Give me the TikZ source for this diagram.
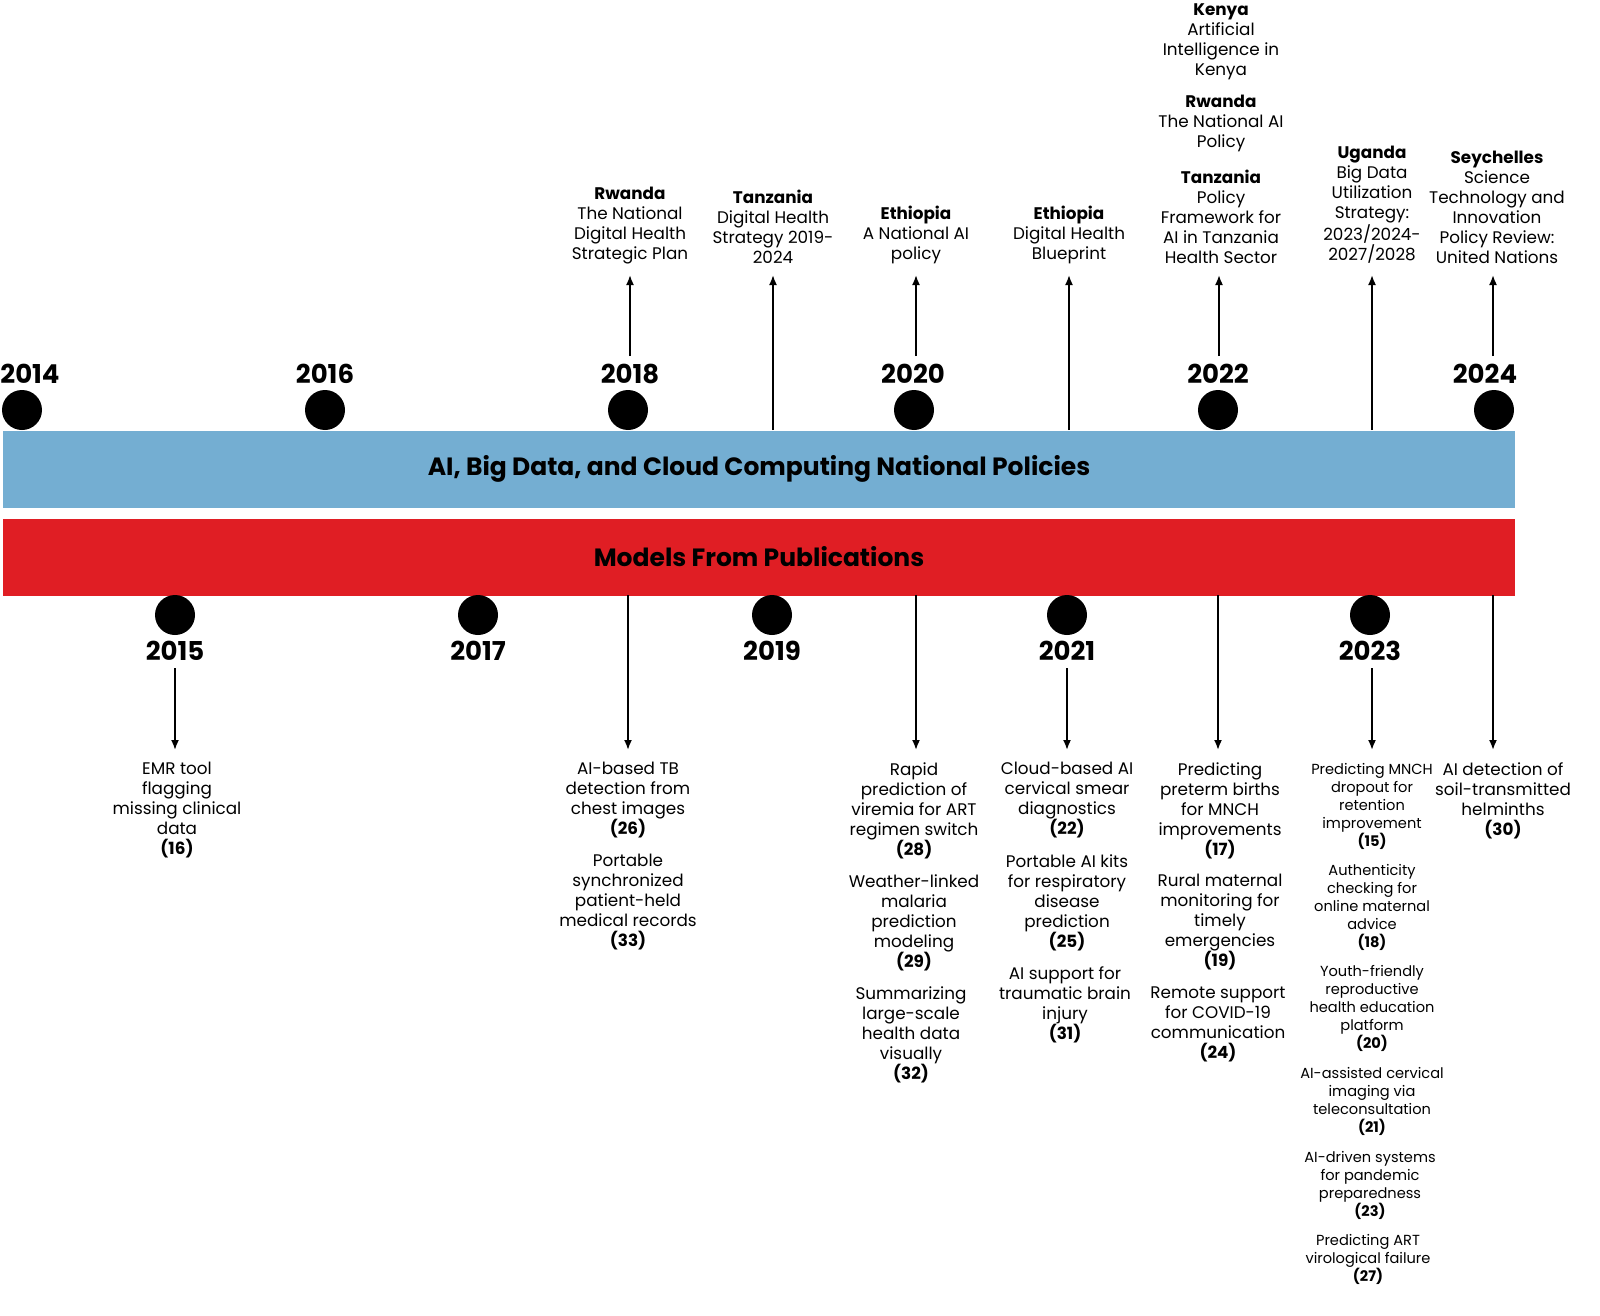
\documentclass[tikz,border=0pt]{standalone}
\usepackage{fontspec}
\setmainfont{Poppins}
\usetikzlibrary{arrows.meta}
\definecolor{bandblue}{RGB}{116,174,210}
\definecolor{bandred}{RGB}{224,30,36}
\tikzset{
  dot/.style={circle,fill=black,minimum size=20pt,inner sep=0pt},
  yr/.style={font=\fontsize{13}{13}\selectfont\bfseries},
  txt/.style={align=center,inner sep=0pt,font=\fontsize{8.4}{10}\selectfont},
  stxt/.style={align=center,inner sep=0pt,font=\fontsize{7.3}{9}\selectfont},
  arr/.style={-{Latex[length=5pt,width=4pt]},line width=0.9pt},
  band/.style={minimum width=756pt,minimum height=38.5pt,inner sep=0pt}
}
\begin{document}
\begin{tikzpicture}[x=0.5pt,y=-0.5pt]
\useasboundingbox (0,0) rectangle (1600,1316);

% bands
\node[band,fill=bandblue] (pol) at (759,469) {};
\node[font=\fontsize{12.5}{12.5}\selectfont\bfseries] (polt) at (759,469) {AI, Big Data, and Cloud Computing National Policies};
\node[band,fill=bandred] (mod) at (759,557) {};
\node[font=\fontsize{12.5}{12.5}\selectfont\bfseries] (modt) at (759,557) {Models From Publications};

% years above
\foreach \x/\lx/\y in {22/30/2014,325/325/2016,628/630/2018,914/913/2020,1218/1218/2022,1494/1485/2024}{
  \node[dot] (d\y) at (\x,410) {};
  \node[yr] (y\y) at (\lx,374) {\y};
}
% years below
\foreach \x/\y in {175/2015,478/2017,772/2019,1067/2021,1370/2023}{
  \node[dot] (d\y) at (\x,615) {};
  \node[yr] (y\y) at (\x,651) {\y};
}

% policies
\node[txt,anchor=south] (p1) at (630,264) {\textbf{Rwanda}\\The National\\Digital Health\\Strategic Plan};
\node[txt,anchor=south] (p2) at (773,264) {\textbf{Tanzania}\\Digital Health\\Strategy 2019-\\2024};
\node[txt,anchor=south] (p3) at (916,264) {\textbf{Ethiopia}\\A National AI\\policy};
\node[txt,anchor=south] (p4) at (1069,264) {\textbf{Ethiopia}\\Digital Health\\Blueprint};
\node[txt,anchor=south] (p5) at (1221,264) {\textbf{Tanzania}\\Policy\\Framework for\\AI in Tanzania\\Health Sector};
\node[txt,anchor=south] (p6) at (1221,152) {\textbf{Rwanda}\\The National AI\\Policy};
\node[txt,anchor=south] (p7) at (1221,80) {\textbf{Kenya}\\Artificial\\Intelligence in\\Kenya};
\node[txt,anchor=south] (p8) at (1372,264) {\textbf{Uganda}\\Big Data\\Utilization\\Strategy:\\2023/2024-\\2027/2028};
\node[txt,anchor=south] (p9) at (1497,264) {\textbf{Seychelles}\\Science\\Technology and\\Innovation\\Policy Review:\\United Nations};

\coordinate (t1) at (630,275); \coordinate (s1) at (630,356);
\coordinate (t2) at (773,275); \coordinate (s2) at (773,430);
\coordinate (t3) at (916,275); \coordinate (s3) at (916,356);
\coordinate (t4) at (1069,275); \coordinate (s4) at (1069,430);
\coordinate (t5) at (1219,275); \coordinate (s5) at (1219,356);
\coordinate (t6) at (1372,275); \coordinate (s6) at (1372,430);
\coordinate (t7) at (1493,275); \coordinate (s7) at (1493,356);
\foreach \i in {1,...,7}{\draw[arr] (s\i) -- (t\i);}

% models
\node[txt,anchor=north] (m16) at (177,762) {EMR tool\\flagging\\missing clinical\\data\\\textbf{(16)}};
\node[txt,anchor=north] (m26) at (628,762) {AI-based TB\\detection from\\chest images\\\textbf{(26)}};
\node[txt,anchor=north] (m33) at (628,854) {Portable\\synchronized\\patient-held\\medical records\\\textbf{(33)}};
\node[txt,anchor=north] (m28) at (914,762) {Rapid\\prediction of\\viremia for ART\\regimen switch\\\textbf{(28)}};
\node[txt,anchor=north] (m29) at (914,874) {Weather-linked\\malaria\\prediction\\modeling\\\textbf{(29)}};
\node[txt,anchor=north] (m32) at (911,986) {Summarizing\\large-scale\\health data\\visually\\\textbf{(32)}};
\node[txt,anchor=north] (m22) at (1067,762) {Cloud-based AI\\cervical smear\\diagnostics\\\textbf{(22)}};
\node[txt,anchor=north] (m25) at (1067,854) {Portable AI kits\\for respiratory\\disease\\prediction\\\textbf{(25)}};
\node[txt,anchor=north] (m31) at (1065,966) {AI support for\\traumatic brain\\injury\\\textbf{(31)}};
\node[txt,anchor=north] (m17) at (1220,762) {Predicting\\preterm births\\for MNCH\\improvements\\\textbf{(17)}};
\node[txt,anchor=north] (m19) at (1220,874) {Rural maternal\\monitoring for\\timely\\emergencies\\\textbf{(19)}};
\node[txt,anchor=north] (m24) at (1218,986) {Remote support\\for COVID-19\\communication\\\textbf{(24)}};
\node[stxt,anchor=north] (m15) at (1372,763) {Predicting MNCH\\dropout for\\retention\\improvement\\\textbf{(15)}};
\node[stxt,anchor=north] (m18) at (1372,864) {Authenticity\\checking for\\online maternal\\advice\\\textbf{(18)}};
\node[stxt,anchor=north] (m20) at (1372,965) {Youth-friendly\\reproductive\\health education\\platform\\\textbf{(20)}};
\node[stxt,anchor=north] (m21) at (1372,1067) {AI-assisted cervical\\imaging via\\teleconsultation\\\textbf{(21)}};
\node[stxt,anchor=north] (m23) at (1370,1151) {AI-driven systems\\for pandemic\\preparedness\\\textbf{(23)}};
\node[stxt,anchor=north] (m27) at (1368,1234) {Predicting ART\\virological failure\\\textbf{(27)}};
\node[txt,anchor=north] (m30) at (1503,762) {AI detection of\\soil-transmitted\\helminths\\\textbf{(30)}};

\coordinate (u1) at (175,668); \coordinate (v1) at (175,750);
\coordinate (u2) at (628,595); \coordinate (v2) at (628,750);
\coordinate (u3) at (916,595); \coordinate (v3) at (916,750);
\coordinate (u4) at (1067,668); \coordinate (v4) at (1067,750);
\coordinate (u5) at (1218,595); \coordinate (v5) at (1218,750);
\coordinate (u6) at (1372,668); \coordinate (v6) at (1372,750);
\coordinate (u7) at (1493,595); \coordinate (v7) at (1493,750);
\foreach \i in {1,...,7}{\draw[arr] (u\i) -- (v\i);}
\end{tikzpicture}
\end{document}
